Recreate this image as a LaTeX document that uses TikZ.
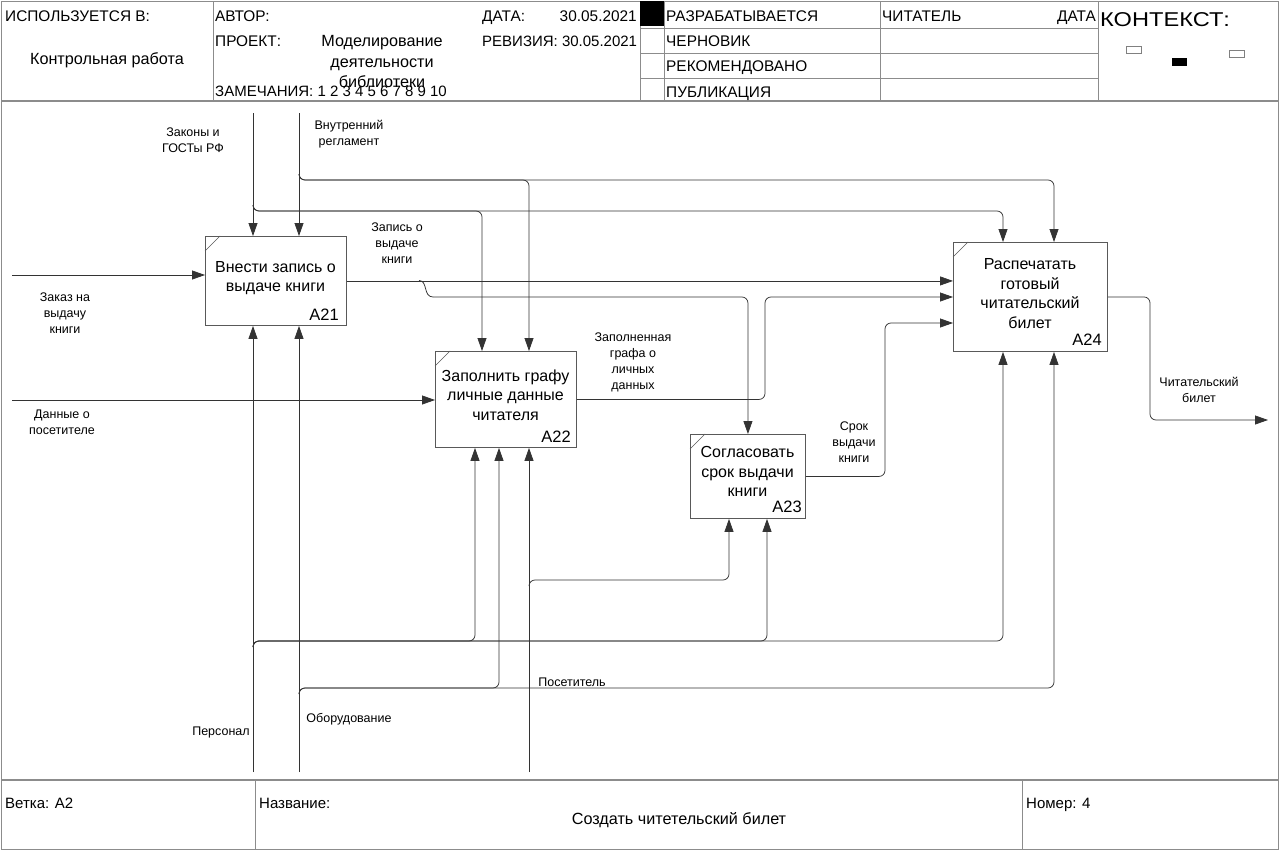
\documentclass[tikz,border=0pt]{standalone}
\usepackage{fontspec}
\setmainfont{Liberation Sans}
\usetikzlibrary{arrows.meta,calc}
\begin{document}
\begin{tikzpicture}[x=1pt,y=-1pt,
  every node/.style={inner sep=0pt},
  frm/.style={draw=black!45, line width=1.4pt},
  grd/.style={draw=black!45, line width=0.9pt},
  fbox/.style={draw=black!65, line width=0.9pt, anchor=north west},
  conn/.style={draw=black!80, line width=0.75pt, rounded corners=6pt},
  arr/.style={-{Triangle[length=13pt,width=9pt]}},
  hdr/.style={font=\fontsize{15.4}{18}\selectfont, anchor=base west},
  hdre/.style={font=\fontsize{15.4}{18}\selectfont, anchor=base east},
  hdrc/.style={font=\fontsize{16.2}{19}\selectfont, anchor=base},
  btxt/.style={font=\fontsize{16}{19.5}\selectfont, align=center},
  bid/.style={font=\fontsize{16.5}{18}\selectfont, anchor=base east},
  lbl/.style={font=\fontsize{12.5}{16}\selectfont, align=center},
  ftr/.style={font=\fontsize{15}{18}\selectfont, anchor=base west}
]
\fill[white] (0,0) rectangle (1280,851);
\useasboundingbox (0,0) rectangle (1280,851);

% frame
\draw[frm] (1.5,1.5) rectangle (1278.5,849.5);
\draw[frm] (1.5,101) -- (1278.5,101);
\draw[frm] (1.5,780) -- (1278.5,780);
\foreach \xx in {213,640,664,880,1098} \draw[grd] (\xx,1.5) -- (\xx,101);
\foreach \yy in {28,53,78} \draw[grd] (640,\yy) -- (1098,\yy);
\fill[black] (640,1.5) rectangle (664,26);
\draw[grd] (255,780) -- (255,849.5);
\draw[grd] (1022,780) -- (1022,849.5);

% header texts
\node[hdr] (h1) at (5,22) {ИСПОЛЬЗУЕТСЯ В:};
\node[hdrc] (h2) at (107,65) {Контрольная работа};
\node[hdr] (h3) at (215,22) {АВТОР:};
\node[hdr] (h4) at (215,47) {ПРОЕКТ:};
\node[hdrc] (h5) at (382,47) {Моделирование};
\node[hdrc] (h6) at (382,67) {деятельности};
\node[hdrc] (h7) at (382,88) {библиотеки};
\node[font=\fontsize{15}{18}\selectfont, anchor=base west] (h8) at (215,96) {ЗАМЕЧАНИЯ: 1 2 3 4 5 6 7 8 9 10};
\node[hdr] (h9) at (482,22) {ДАТА:};
\node[hdre] (h10) at (637,22) {30.05.2021};
\node[font=\fontsize{15}{18}\selectfont, anchor=base west] (h11) at (482,47) {РЕВИЗИЯ: 30.05.2021};
\node[hdr] (h13) at (666,22) {РАЗРАБАТЫВАЕТСЯ};
\node[hdr] (h14) at (666,47) {ЧЕРНОВИК};
\node[hdr] (h15) at (666,72) {РЕКОМЕНДОВАНО};
\node[hdr] (h16) at (666,97) {ПУБЛИКАЦИЯ};
\node[hdr] (h17) at (882,22) {ЧИТАТЕЛЬ};
\node[hdre] (h18) at (1096,22) {ДАТА};
\node[font=\fontsize{20}{22}\selectfont, anchor=base west] (h19) at (1100,27) {\scalebox{1.18}[1]{КОНТЕКСТ:}};
\draw[black!50, line width=0.6pt, fill=white] (1126,46) rectangle (1141,53);
\fill[black] (1172,58) rectangle (1187,66);
\draw[black!50, line width=0.6pt, fill=white] (1229,50) rectangle (1244,57);

% footer texts
\node[ftr] (f1) at (5,808) {Ветка: А2};
\node[ftr] (f2) at (259,808) {Название:};
\node[font=\fontsize{16.2}{19}\selectfont, anchor=base] (f3) at (679,824) {Создать читетельский билет};
\node[ftr] (f4) at (1026,808) {Номер: 4};

% boxes
\node[fbox, minimum width=141, minimum height=89] (A21) at (205,236) {};
\node[fbox, minimum width=141, minimum height=96] (A22) at (435,351) {};
\node[fbox, minimum width=115, minimum height=84] (A23) at (690,434) {};
\node[fbox, minimum width=154, minimum height=109] (A24) at (953,242) {};
\foreach \b in {A21,A22,A23,A24}
  \draw[black!65, line width=0.6pt] ($(\b.north west)+(0,15)$) -- ($(\b.north west)+(15,0)$);

\node[btxt] (A21t) at (275.5,278) {Внести запись о\\выдаче книги};
\node[btxt] (A22t) at (505.5,395) {Заполнить графу\\личные данные\\читателя};
\node[btxt] (A23t) at (747.5,471.5) {Согласовать\\срок выдачи\\книги};
\node[btxt] (A24t) at (1030,293.5) {Распечатать\\готовый\\читательский\\билет};
\node[bid] (A21id) at (339,320) {A21};
\node[bid] (A22id) at (571,442) {A22};
\node[bid] (A23id) at (802,512) {A23};
\node[bid] (A24id) at (1102,345) {A24};

% labels
\node[lbl] (l1) at (65,313) {Заказ на\\выдачу\\книги};
\node[lbl] (l2) at (62,422) {Данные о\\посетителе};
\node[lbl] (l3) at (193,140) {Законы и\\ГОСТы РФ};
\node[lbl] (l4) at (349,134) {Внутренний\\регламент};
\node[lbl] (l5) at (397,243) {Запись о\\выдаче\\книги};
\node[lbl] (l6) at (633,362) {Заполненная\\графа о\\личных\\данных};
\node[lbl] (l7) at (854,442) {Срок\\выдачи\\книги};
\node[lbl] (l8) at (1199,390) {Читательский\\билет};
\node[lbl] (l9) at (221,732) {Персонал};
\node[lbl] (l10) at (349,719) {Оборудование};
\node[lbl] (l11) at (572,682) {Посетитель};

% free ends and bends
\coordinate (in1) at (12,275);
\coordinate (in2) at (12,400);
\coordinate (lawTop) at (253,113);
\coordinate (regTop) at (299,113);
\coordinate (persBot) at (253,772);
\coordinate (equipBot) at (299,772);
\coordinate (visBot) at (529,772);
\coordinate (out) at (1268,420);
\coordinate (c1) at (482,211);
\coordinate (c2) at (1003,211);
\coordinate (c3) at (529,180);
\coordinate (c4) at (1054,180);
\coordinate (c5) at (765,297);
\coordinate (c6) at (885,323);
\coordinate (c7) at (1150,420);
\coordinate (c8) at (475,641);
\coordinate (c9) at (767,641);
\coordinate (c10) at (1003,641);
\coordinate (c11) at (499,688);
\coordinate (c12) at (1054,688);
\coordinate (c13) at (729,580);

% inputs
\draw[conn,arr] (in1) -- (in1 -| A21.west);
\draw[conn,arr] (in2) -- (in2 -| A22.west);

% controls
\draw[conn,arr] (lawTop) -- (lawTop |- A21.north);
\draw[conn,arr] ($(lawTop |- c1)+(0,-6)$) |- (c1) -- (c1 |- A22.north);
\draw[conn,arr] ($(lawTop |- c2)+(0,-6)$) |- (c2) -- (c2 |- A24.north);
\draw[conn,arr] (regTop) -- (regTop |- A21.north);
\draw[conn,arr] ($(regTop |- c3)+(0,-6)$) |- (c3) -- (c3 |- A22.north);
\draw[conn,arr] ($(regTop |- c4)+(0,-6)$) |- (c4) -- (c4 |- A24.north);

% outputs
\draw[conn,arr] (A21.east) -- (A21.east -| A24.west);
\draw[conn] (419,280.5) .. controls (428,280.5) and (423,297) .. (433,297) coordinate (j1);
\draw[conn,arr] (j1) -| (A23.north);
\draw[conn,arr] (A22.east) -| (c5) -- (c5 -| A24.west);
\draw[conn,arr] (A23.east) -| (c6) -- (c6 -| A24.west);
\draw[conn,arr] (A24.east) -| (c7) -- (out);

% mechanisms
\draw[conn,arr] (persBot) -- (persBot |- A21.south);
\draw[conn,arr] ($(persBot |- c8)+(0,6)$) |- (c8) -- (c8 |- A22.south);
\draw[conn,arr] ($(persBot |- c9)+(0,6)$) |- (c9) -- (c9 |- A23.south);
\draw[conn,arr] ($(persBot |- c10)+(0,6)$) |- (c10) -- (c10 |- A24.south);
\draw[conn,arr] (equipBot) -- (equipBot |- A21.south);
\draw[conn,arr] ($(equipBot |- c11)+(0,6)$) |- (c11) -- (c11 |- A22.south);
\draw[conn,arr] ($(equipBot |- c12)+(0,6)$) |- (c12) -- (c12 |- A24.south);
\draw[conn,arr] (visBot) -- (visBot |- A22.south);
\draw[conn,arr] ($(visBot |- c13)+(0,6)$) |- (c13) -- (c13 |- A23.south);
\end{tikzpicture}
\end{document}
